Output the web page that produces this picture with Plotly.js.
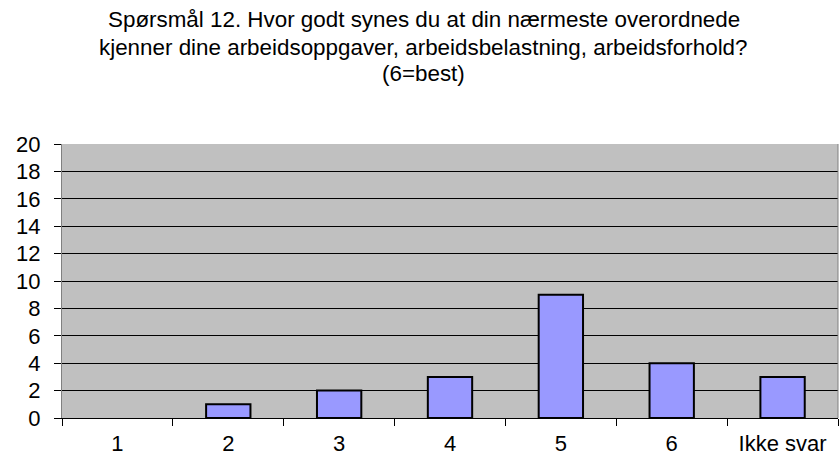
<!DOCTYPE html>
<html><head><meta charset="utf-8">
<script src="https://cdn.plot.ly/plotly-3.0.1.min.js"></script>
<style>body{margin:0;padding:0;}#chart{width:840px;height:465px;}</style>
</head><body><div id="chart"></div>
<script>
var categories = ["1", "2", "3", "4", "5", "6", "Ikke svar"];
var values = [0, 1, 2, 3, 9, 4, 3];
var yTicks = [0, 2, 4, 6, 8, 10, 12, 14, 16, 18, 20];
var titleLines = [
  "Spørsmål 12. Hvor godt synes du at din nærmeste overordnede",
  "kjenner dine arbeidsoppgaver, arbeidsbelastning, arbeidsforhold?",
  "(6=best)"
];

var FONT = "Liberation Sans, Arial, sans-serif";
var trace = {
  type: "bar",
  x: categories,
  y: values,
  marker: {color: "#9999ff", line: {color: "#000000", width: values.map(function(v){return v > 0 ? 2 : 0;})}},
  width: 0.4,
  hoverinfo: "x+y"
};
var titleY = [1.4526, 1.354, 1.2555];
var annotations = titleLines.map(function(t, i){
  return {text: t, xref: "paper", yref: "paper", x: 0.466, y: titleY[i],
    xanchor: "center", yanchor: "middle", showarrow: false,
    font: {family: FONT, size: 22.4, color: "#000000"}};
});
var layout = {
  width: 840, height: 465,
  margin: {l: 62, r: 2, t: 144, b: 47},
  paper_bgcolor: "#ffffff",
  plot_bgcolor: "#c0c0c0",
  font: {family: FONT, size: 22, color: "#000000"},
  annotations: annotations,
  xaxis: {
    type: "category",
    tickson: "boundaries",
    ticks: "outside", ticklen: 7, tickcolor: "#000000", tickwidth: 1,
    showline: true, linecolor: "#000000", linewidth: 1, mirror: false,
    showgrid: false, zeroline: false,
    tickfont: {size: 22},
    ticklabelstandoff: 6
  },
  yaxis: {
    range: [0, 20],
    tickvals: yTicks,
    ticks: "outside", ticklen: 7, tickcolor: "#000000", tickwidth: 1,
    showline: true, linecolor: "#808080", linewidth: 1, mirror: false,
    showgrid: true, gridcolor: "#000000", gridwidth: 1,
    zeroline: false,
    tickfont: {size: 22},
    ticklabelstandoff: 9
  },
  shapes: [
    {type: "line", xref: "paper", yref: "paper", x0: 1, x1: 1, y0: 0, y1: 1, line: {color: "#808080", width: 1}}
  ],
  showlegend: false,
  bargap: 0.6
};
Plotly.newPlot("chart", [trace], layout, {displayModeBar: false});
</script></body></html>
